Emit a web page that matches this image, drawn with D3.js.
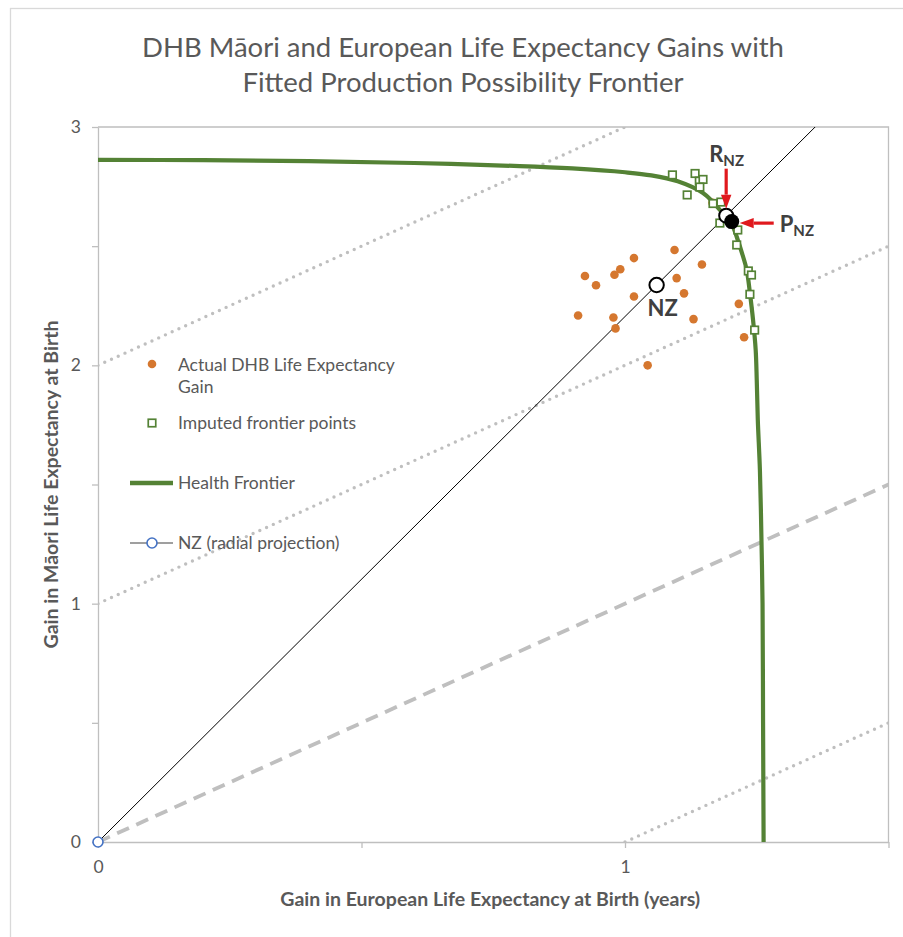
<!DOCTYPE html>
<html>
<head>
<meta charset="utf-8">
<script src="https://cdn.jsdelivr.net/npm/d3@7"></script>
<style>
  html, body { margin: 0; padding: 0; background: #fff; }
  svg { display: block; font-family: Lato, "Open Sans", sans-serif; }
</style>
</head>
<body>
<svg id="chart" width="903" height="937"></svg>
<script>
// ---- data -------------------------------------------------------------
const titleLines = [
  "DHB Māori and European Life Expectancy Gains with",
  "Fitted Production Possibility Frontier"
];
const xAxisTitle = "Gain in European Life Expectancy at Birth (years)";
const yAxisTitle = "Gain in Māori Life Expectancy at Birth";

const xDomain = [0, 1.5];
const yDomain = [0, 3];
const xTicks = [0, 0.5, 1, 1.5];
const yTicks = [0, 0.5, 1, 1.5, 2, 2.5, 3];
const xTickLabels = [0, 1];
const yTickLabels = [0, 1, 2, 3];

// Actual DHB gains (European, Māori)
const dhbEuropean = [0.924, 0.945, 0.980, 0.991, 1.017, 1.094, 1.098, 1.017, 0.911,
                     0.978, 0.982, 1.043, 1.146, 1.112, 1.130, 1.216, 1.226, 1.166];
const dhbMaori    = [2.375, 2.336, 2.380, 2.403, 2.450, 2.484, 2.366, 2.289, 2.209,
                     2.201, 2.155, 2.000, 2.423, 2.302, 2.194, 2.258, 2.118, 2.682];

// Imputed frontier points (European, Māori)
const imputedEuropean = [1.090, 1.133, 1.141, 1.148, 1.142, 1.118, 1.167, 1.182,
                         1.180, 1.214, 1.212, 1.234, 1.240, 1.237, 1.246];
const imputedMaori    = [2.799, 2.805, 2.773, 2.780, 2.748, 2.715, 2.679, 2.685,
                         2.597, 2.568, 2.505, 2.396, 2.379, 2.298, 2.148];

// Fitted health frontier
const frontierEuropean = [0, 0.2, 0.4, 0.6, 0.8, 0.9, 1.0, 1.05, 1.1, 1.148, 1.167, 1.18,
                          1.194, 1.205, 1.214, 1.222, 1.231, 1.237, 1.243, 1.248, 1.25,
                          1.252, 1.256, 1.259, 1.261, 1.262, 1.263];
const frontierMaori    = [2.862, 2.861, 2.857, 2.849, 2.836, 2.826, 2.81, 2.797, 2.772,
                          2.723, 2.685, 2.652, 2.618, 2.58, 2.526, 2.471, 2.40, 2.304,
                          2.19, 2.064, 1.938, 1.771, 1.56, 1.26, 1.0, 0.5, 0];

// NZ radial projection through the national point
const radialEuropean = [0, 1.5];
const radialMaori    = [0, 3.307];
const nzPoint = [1.06, 2.337];
const rNzPoint = [1.192, 2.628];
const pNzPoint = [1.2025, 2.603];

// Reference lines: equal gain (dashed) and ±1, +2 year offsets (dotted)
const equalGainLine = [[0, 0], [1.5, 1.5]];
const offsetLines = [
  [[0, 2], [1, 3]],
  [[0, 1], [1.5, 2.5]],
  [[1, 0], [1.5, 0.5]]
];

// ---- colours ----------------------------------------------------------
const C = {
  text: "#595959",
  dark: "#404040",
  axis: "#bfbfbf",
  ref: "#bfbfbf",
  orange: "#D5772F",
  green: "#548235",
  blue: "#4472C4",
  red: "#E0191E"
};

// ---- layout -----------------------------------------------------------
const svg = d3.select("#chart");
const plot = { left: 98, right: 888.5, top: 127, bottom: 842 };

const x = d3.scaleLinear().domain(xDomain).range([plot.left, plot.right]);
const y = d3.scaleLinear().domain(yDomain).range([plot.bottom, plot.top]);

// chart area border
svg.append("rect")
  .attr("x", 10.5).attr("y", 8.5)
  .attr("width", 1000).attr("height", 1000)
  .attr("fill", "#fff").attr("stroke", "#d9d9d9").attr("stroke-width", 1.3);

// title
svg.append("g").selectAll("text").data(titleLines).join("text")
  .attr("x", 463).attr("y", (d, i) => 57 + i * 35)
  .attr("text-anchor", "middle")
  .attr("font-size", 27.5)
  .attr("fill", C.text)
  .text(d => d);

// clip for plot content
svg.append("defs").append("clipPath").attr("id", "plotClip")
  .append("rect")
  .attr("x", plot.left).attr("y", plot.top)
  .attr("width", plot.right - plot.left).attr("height", plot.bottom - plot.top);

// plot frame (top and right)
svg.append("path")
  .attr("d", `M${plot.left},${plot.top}H${plot.right}V${plot.bottom}`)
  .attr("fill", "none").attr("stroke", C.axis).attr("stroke-width", 1.3);

// axes
const xAxis = d3.axisBottom(x).tickValues(xTicks).tickSizeInner(6).tickSizeOuter(0)
  .tickPadding(13).tickFormat(d => xTickLabels.includes(d) ? d3.format("d")(d) : "");
const yAxis = d3.axisLeft(y).tickValues(yTicks).tickSizeInner(6).tickSizeOuter(0)
  .tickPadding(11).tickFormat(d => yTickLabels.includes(d) ? d3.format("d")(d) : "");

const gx = svg.append("g").attr("transform", `translate(0,${plot.bottom})`).call(xAxis);
const gy = svg.append("g").attr("transform", `translate(${plot.left},0)`).call(yAxis);
[gx, gy].forEach(g => {
  g.select(".domain").attr("stroke", C.axis).attr("stroke-width", 1.3);
  g.selectAll(".tick line").attr("stroke", C.axis).attr("stroke-width", 1.3);
  g.selectAll(".tick text").attr("fill", C.text).attr("font-size", 17.5)
    .attr("font-family", "Lato, sans-serif");
});

// axis titles
svg.append("text")
  .attr("x", (plot.left + plot.right) / 2 - 3).attr("y", 906)
  .attr("text-anchor", "middle").attr("font-size", 19.5).attr("font-weight", "bold")
  .attr("fill", C.text).text(xAxisTitle);
svg.append("text")
  .attr("transform", `translate(58,${(plot.top + plot.bottom) / 2}) rotate(-90)`)
  .attr("text-anchor", "middle").attr("font-size", 19.5).attr("font-weight", "bold")
  .attr("fill", C.text).text(yAxisTitle);

// plot content
const body = svg.append("g").attr("clip-path", "url(#plotClip)");
const line = d3.line().x(d => x(d[0])).y(d => y(d[1]));

// dotted offset lines
body.append("g").selectAll("path").data(offsetLines).join("path")
  .attr("d", line)
  .attr("fill", "none").attr("stroke", C.ref).attr("stroke-width", 3.4)
  .attr("stroke-linecap", "round").attr("stroke-dasharray", "0 7.4");

// dashed equal-gain line
body.append("path").datum(equalGainLine)
  .attr("d", line)
  .attr("fill", "none").attr("stroke", C.ref).attr("stroke-width", 3.8)
  .attr("stroke-dasharray", "13 8");

// NZ radial projection
const radial = radialEuropean.map((v, i) => [v, radialMaori[i]]);
body.append("path").datum(radial)
  .attr("d", line)
  .attr("fill", "none").attr("stroke", "#000").attr("stroke-width", 1);

// actual DHB gains
const dhb = dhbEuropean.map((v, i) => [v, dhbMaori[i]]);
body.append("g").selectAll("circle").data(dhb).join("circle")
  .attr("cx", d => x(d[0])).attr("cy", d => y(d[1])).attr("r", 4.3)
  .attr("fill", C.orange);

// health frontier
const frontier = frontierEuropean.map((v, i) => [v, frontierMaori[i]]);
body.append("path").datum(frontier)
  .attr("d", line.curve(d3.curveCatmullRom.alpha(0.5)))
  .attr("fill", "none").attr("stroke", C.green).attr("stroke-width", 4.2)
  .attr("stroke-linejoin", "round");
line.curve(d3.curveLinear);

// imputed frontier points
const imputed = imputedEuropean.map((v, i) => [v, imputedMaori[i]]);
const sq = 7.5;
body.append("g").selectAll("rect").data(imputed).join("rect")
  .attr("x", d => x(d[0]) - sq / 2).attr("y", d => y(d[1]) - sq / 2)
  .attr("width", sq).attr("height", sq)
  .attr("fill", "#fff").attr("stroke", C.green).attr("stroke-width", 1.7);

// origin marker of radial series
svg.append("circle")
  .attr("cx", x(radial[0][0])).attr("cy", y(radial[0][1])).attr("r", 5)
  .attr("fill", "#fff").attr("stroke", C.blue).attr("stroke-width", 1.6);

// NZ, R_NZ and P_NZ
svg.append("circle").attr("cx", x(nzPoint[0])).attr("cy", y(nzPoint[1])).attr("r", 7.2)
  .attr("fill", "#fff").attr("stroke", "#000").attr("stroke-width", 2);
svg.append("circle").attr("cx", x(rNzPoint[0])).attr("cy", y(rNzPoint[1])).attr("r", 7)
  .attr("fill", "#fff").attr("stroke", "#000").attr("stroke-width", 2);
svg.append("circle").attr("cx", x(pNzPoint[0])).attr("cy", y(pNzPoint[1])).attr("r", 7.5)
  .attr("fill", "#000");

// annotation arrows
function arrow(x1, y1, x2, y2) {
  const ang = Math.atan2(y2 - y1, x2 - x1);
  const hl = 14, hw = 5.2;
  const bx = x2 - hl * Math.cos(ang), by = y2 - hl * Math.sin(ang);
  const px = -Math.sin(ang), py = Math.cos(ang);
  svg.append("line").attr("x1", x1).attr("y1", y1).attr("x2", bx).attr("y2", by)
    .attr("stroke", C.red).attr("stroke-width", 3.2);
  svg.append("path")
    .attr("d", `M${x2},${y2}L${bx + px * hw},${by + py * hw}L${bx - px * hw},${by - py * hw}Z`)
    .attr("fill", C.red);
}
const rx = x(rNzPoint[0]), ry = y(rNzPoint[1]);
const ppx = x(pNzPoint[0]), ppy = y(pNzPoint[1]);
arrow(rx, ry - 47, rx, ry - 7);
arrow(ppx + 42, ppy + 1.5, ppx + 8, ppy + 1.5);

// point labels
const nzx = x(nzPoint[0]), nzy = y(nzPoint[1]);
svg.append("text").attr("x", nzx + 6).attr("y", nzy + 31)
  .attr("text-anchor", "middle").attr("font-size", 22).attr("font-weight", "bold")
  .attr("fill", C.dark).text("NZ");

function subLabel(tx, ty, main, sub) {
  const t = svg.append("text").attr("x", tx).attr("y", ty)
    .attr("font-size", 22).attr("font-weight", "bold").attr("fill", C.dark);
  t.append("tspan").text(main);
  t.append("tspan").attr("font-size", 15).attr("dy", 4).text(sub);
}
subLabel(rx - 17, ry - 54, "R", "NZ");
subLabel(ppx + 48, ppy + 10, "P", "NZ");

// legend
const lg = svg.append("g").attr("font-size", 17.5).attr("fill", C.text);
lg.append("circle").attr("cx", 152).attr("cy", 364).attr("r", 4.3).attr("fill", C.orange);
lg.append("text").attr("x", 178).attr("y", 371).text("Actual DHB Life Expectancy");
lg.append("text").attr("x", 178).attr("y", 393).text("Gain");
lg.append("rect").attr("x", 152 - sq / 2).attr("y", 423 - sq / 2)
  .attr("width", sq).attr("height", sq)
  .attr("fill", "#fff").attr("stroke", C.green).attr("stroke-width", 1.7);
lg.append("text").attr("x", 178).attr("y", 429).text("Imputed frontier points");
lg.append("line").attr("x1", 130).attr("x2", 173).attr("y1", 483).attr("y2", 483)
  .attr("stroke", C.green).attr("stroke-width", 4.5);
lg.append("text").attr("x", 178).attr("y", 489).text("Health Frontier");
lg.append("line").attr("x1", 130).attr("x2", 173).attr("y1", 543).attr("y2", 543)
  .attr("stroke", C.dark).attr("stroke-width", 1.2);
lg.append("circle").attr("cx", 152).attr("cy", 543).attr("r", 5)
  .attr("fill", "#fff").attr("stroke", C.blue).attr("stroke-width", 1.6);
lg.append("text").attr("x", 178).attr("y", 549).text("NZ (radial projection)");
</script>
</body>
</html>
